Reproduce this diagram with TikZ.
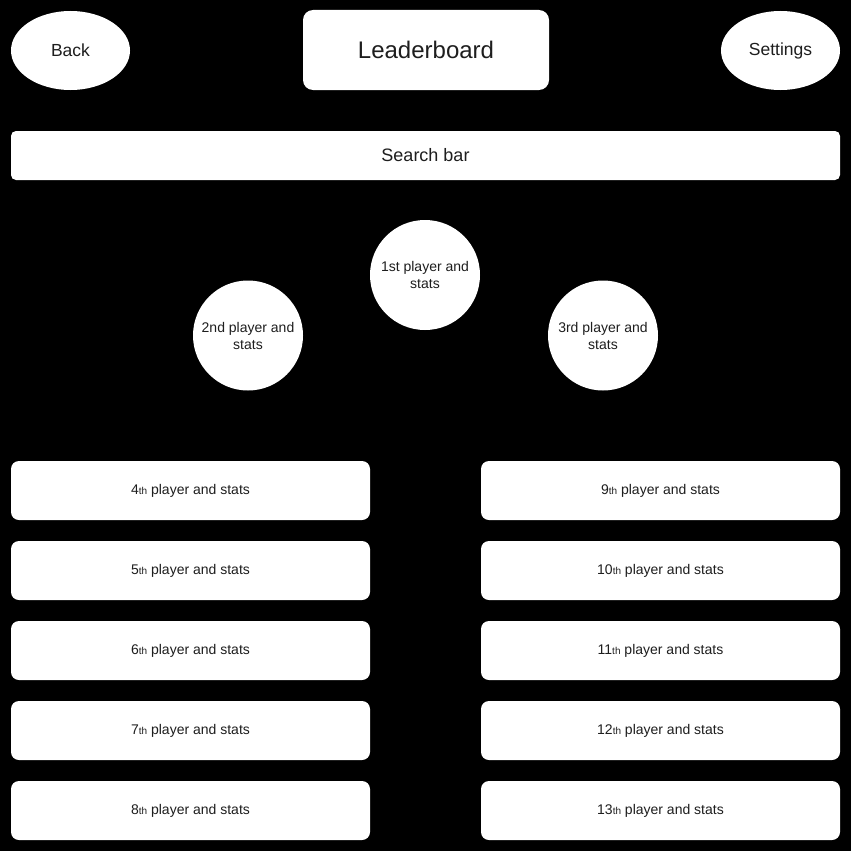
\documentclass[tikz,border=0pt]{standalone}
\usepackage{fontspec}
\setmainfont{Liberation Sans}
\usetikzlibrary{shapes.geometric}
\definecolor{txt}{RGB}{30,30,30}
\tikzset{
  base/.style={fill=white, draw=none, text=txt, inner sep=0pt, align=center},
  oval/.style={base, ellipse, minimum width=119pt, minimum height=79pt, font=\fontsize{17.5}{21}\selectfont},
  title/.style={base, rounded corners=10pt, minimum width=246pt, minimum height=80pt, font=\fontsize{24}{28}\selectfont},
  searchbox/.style={base, rounded corners=5pt, minimum width=829pt, minimum height=49pt, font=\fontsize{18}{21}\selectfont},
  podium/.style={base, circle, minimum size=110pt, font=\fontsize{14}{17}\selectfont},
  rowbox/.style={base, rounded corners=8pt, minimum width=359pt, minimum height=59pt, font=\fontsize{14}{17}\selectfont},
}
\newcommand{\smallth}[1]{{\fontsize{10}{12}\selectfont #1}}
\begin{document}
\begin{tikzpicture}[x=1pt,y=-1pt]
\fill[black] (0,0) rectangle (851,851);
\useasboundingbox (0,0) rectangle (851,851);
\node[oval] (back) at (70.5,50.5) {Back};
\node[title] (lb) at (426,50) {Leaderboard};
\node[oval] (settings) at (780.5,50.5) {Settings};
\node[searchbox] (search) at (425.5,155.5) {Search bar};
\node[podium] (p1) at (425,275) {1st player and\\stats};
\node[podium] (p2) at (248,335.5) {2nd player and\\stats};
\node[podium] (p3) at (603,335.5) {3rd player and\\stats};
\node[rowbox] (p4) at (190.5,490.5) {4\smallth{th} player and stats};
\node[rowbox] (p5) at (190.5,570.5) {5\smallth{th} player and stats};
\node[rowbox] (p6) at (190.5,650.5) {6\smallth{th} player and stats};
\node[rowbox] (p7) at (190.5,730.5) {7\smallth{th} player and stats};
\node[rowbox] (p8) at (190.5,810.5) {8\smallth{th} player and stats};
\node[rowbox] (p9) at (660.5,490.5) {9\smallth{th} player and stats};
\node[rowbox] (p10) at (660.5,570.5) {10\smallth{th} player and stats};
\node[rowbox] (p11) at (660.5,650.5) {11\smallth{th} player and stats};
\node[rowbox] (p12) at (660.5,730.5) {12\smallth{th} player and stats};
\node[rowbox] (p13) at (660.5,810.5) {13\smallth{th} player and stats};
\end{tikzpicture}
\end{document}
